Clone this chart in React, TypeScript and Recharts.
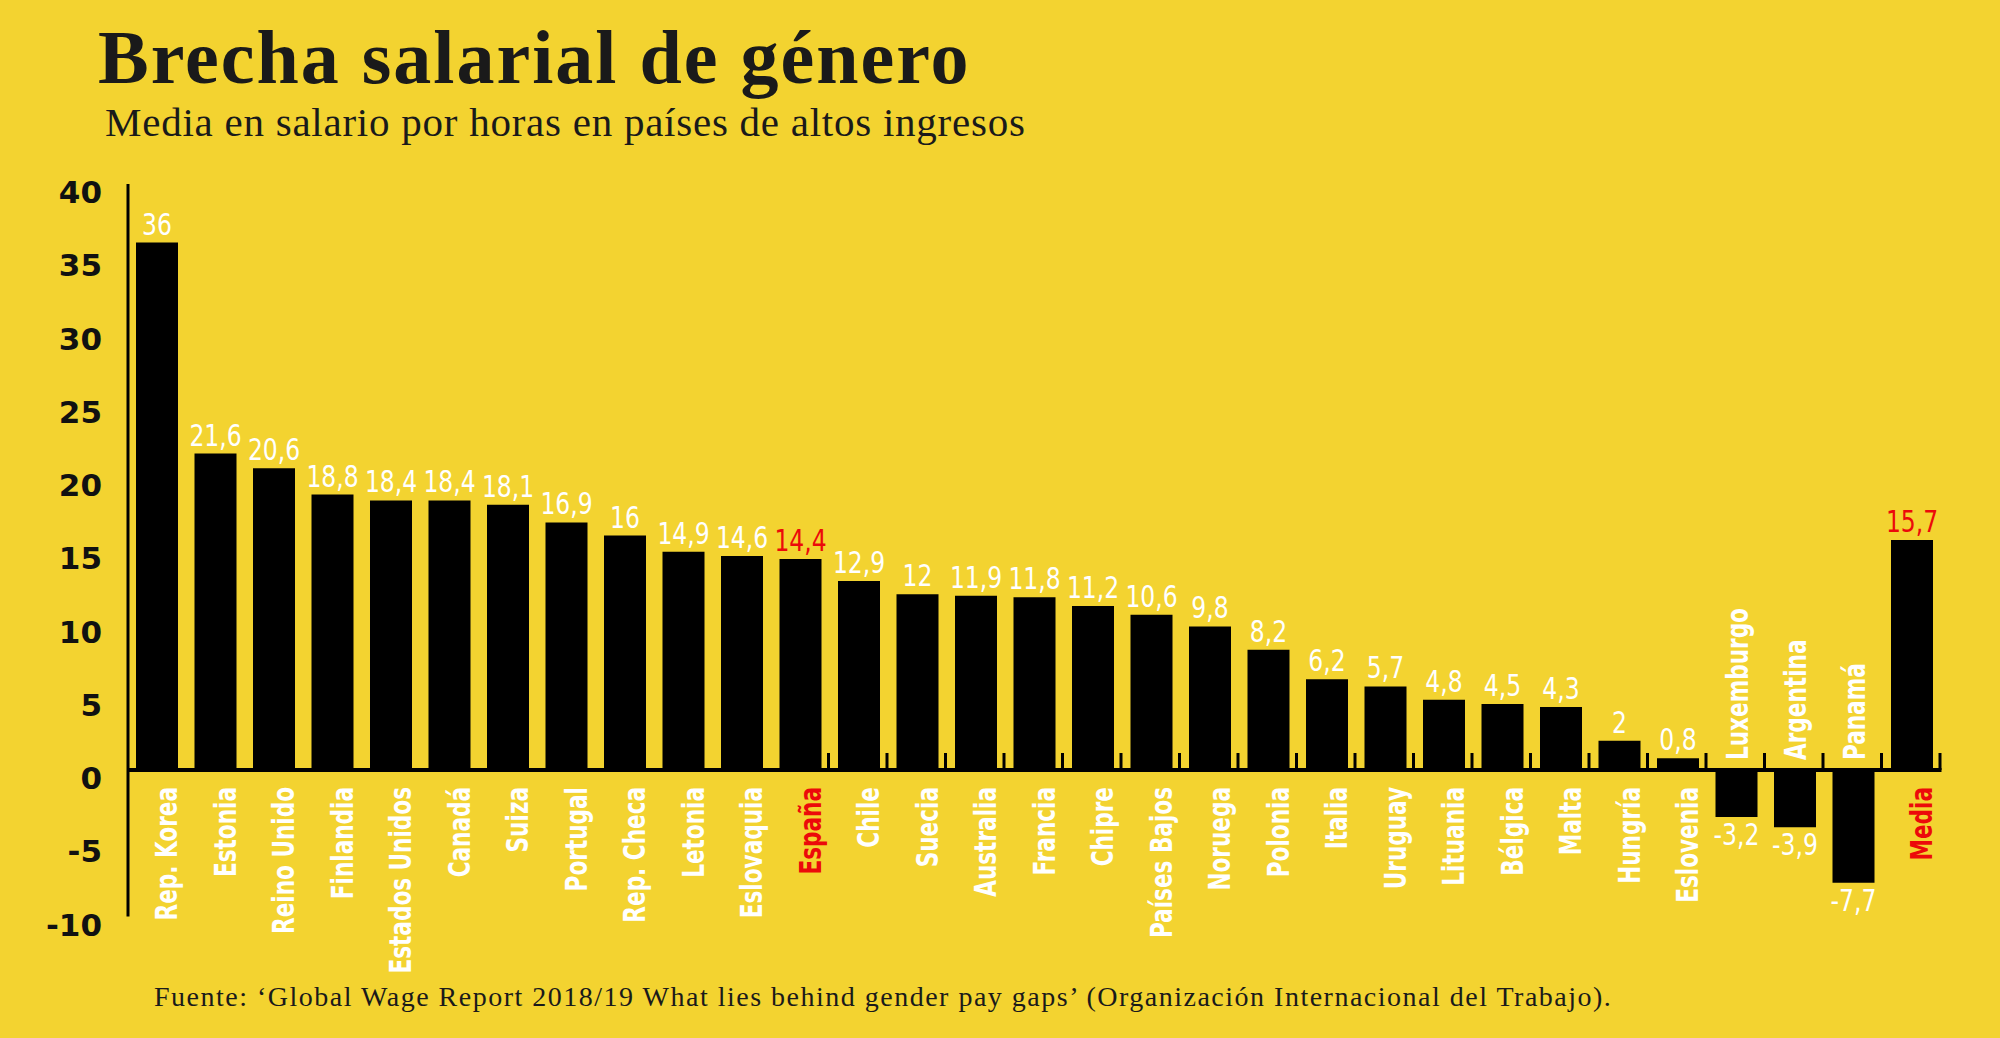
import React from 'react';
import { BarChart, Bar, XAxis, YAxis, ReferenceLine, LabelList, Cell } from 'recharts';

const categories = [
  'Rep. Korea', 'Estonia', 'Reino Unido', 'Finlandia', 'Estados Unidos', 'Canadá', 'Suiza',
  'Portugal', 'Rep. Checa', 'Letonia', 'Eslovaquia', 'España', 'Chile', 'Suecia', 'Australia',
  'Francia', 'Chipre', 'Países Bajos', 'Noruega', 'Polonia', 'Italia', 'Uruguay', 'Lituania',
  'Bélgica', 'Malta', 'Hungría', 'Eslovenia', 'Luxemburgo', 'Argentina', 'Panamá', 'Media',
];

const values = [
  36, 21.6, 20.6, 18.8, 18.4, 18.4, 18.1, 16.9, 16, 14.9, 14.6, 14.4, 12.9, 12, 11.9, 11.8,
  11.2, 10.6, 9.8, 8.2, 6.2, 5.7, 4.8, 4.5, 4.3, 2, 0.8, -3.2, -3.9, -7.7, 15.7,
];

const highlighted = ['España', 'Media'];
const yTicks = [-10, -5, 0, 5, 10, 15, 20, 25, 30, 35, 40];

// small marks on the zero line only appear after España
const firstMark = categories.indexOf('España') + 1;

const data = categories.map((name, i) => ({ name, value: values[i] }));

const BG = '#F3D330';
const RED = '#EC0A0A';
const NARROW = '"Liberation Sans Narrow", "DejaVu Sans Condensed", Roboto, sans-serif';
const SERIF = '"Liberation Serif", "DejaVu Serif", serif';

const fmt = (v: number) => String(v).replace('.', ',');

const YTick = ({ x, y, payload }: any) => (
  <text
    x={x}
    y={y + 19}
    textAnchor="end"
    fontFamily='"DejaVu Sans", sans-serif'
    fontWeight="bold"
    fontSize={31}
    fill="#111"
  >
    {payload.value}
  </text>
);

const ValueLabel = (props: any) => {
  const { x, y, width, height, value, index } = props;
  const top = Math.min(y, y + height);
  const bottom = Math.max(y, y + height);
  const name = categories[index];
  const color = highlighted.includes(name) ? RED : '#fff';
  const neg = value < 0;
  const tx = x + width / 2;
  const ty = neg ? bottom + 28 : top - 8;
  return (
    <text
      transform={`translate(${tx} ${ty}) scale(0.9 1.05)`}
      textAnchor="middle"
      fontFamily={NARROW}
      fontSize={29}
      fill={color}
    >
      {fmt(value)}
    </text>
  );
};

const NameLabel = (props: any) => {
  const { x, y, width, height, value, index } = props;
  const v = values[index];
  const neg = v < 0;
  const zero = neg ? Math.min(y, y + height) : Math.max(y, y + height);
  const cx = x + width / 2;
  const color = highlighted.includes(value) ? RED : '#fff';
  const tx = neg ? cx + 11 : cx + 20;
  const ty = neg ? zero - 10 : zero + 17;
  return (
    <text
      transform={`translate(${tx} ${ty}) rotate(-90) scale(0.8 1)`}
      textAnchor={neg ? 'start' : 'end'}
      fontFamily={NARROW}
      fontWeight="bold"
      fontSize={30}
      fill={color}
    >
      {value}
    </text>
  );
};

const Baseline = (props: any) => {
  const { x1, y1, x2 } = props;
  const step = (x2 - x1) / categories.length;
  const marks = [];
  for (let i = firstMark; i <= categories.length; i++) {
    const mx = x1 + step * i - 1.5;
    marks.push(<line key={i} x1={mx} x2={mx} y1={y1} y2={y1 - 17} stroke="#000" strokeWidth={3} />);
  }
  return (
    <g>
      <line x1={x1} y1={y1} x2={x2} y2={y1} stroke="#000" strokeWidth={4} />
      {marks}
    </g>
  );
};

export default function App() {
  return (
    <div style={{ position: 'absolute', left: 0, top: 0, width: 2000, height: 1038, background: BG, overflow: 'hidden' }}>
      <div
        style={{
          position: 'absolute', left: 98, top: 19, fontFamily: SERIF, fontWeight: 'bold',
          fontSize: 76, lineHeight: 1, letterSpacing: 2, color: '#1a1a1a', whiteSpace: 'nowrap',
        }}
      >
        Brecha salarial de género
      </div>
      <div
        style={{
          position: 'absolute', left: 105, top: 102, fontFamily: SERIF, fontSize: 41,
          lineHeight: 1, letterSpacing: 0.75, color: '#1a1a1a', whiteSpace: 'nowrap',
        }}
      >
        Media en salario por horas en países de altos ingresos
      </div>
      <div style={{ position: 'absolute', left: 0, top: 0 }}>
        <BarChart width={2000} height={1038} data={data} margin={{ top: 184, right: 58.5, bottom: 121.5, left: 8 }}>
          <XAxis dataKey="name" hide />
          <YAxis
            domain={[-10, 40]}
            ticks={yTicks}
            interval={0}
            width={120}
            axisLine={{ stroke: '#000', strokeWidth: 3 }}
            tickLine={false}
            tickSize={0}
            tickMargin={26}
            tick={<YTick />}
          />
          <Bar dataKey="value" barSize={42} fill="#000" isAnimationActive={false}>
            {data.map((d) => (
              <Cell key={d.name} fill="#000" />
            ))}
            <LabelList dataKey="value" content={<ValueLabel />} />
            <LabelList dataKey="name" content={<NameLabel />} />
          </Bar>
          <ReferenceLine y={0} shape={Baseline} />
        </BarChart>
      </div>
      <div
        style={{
          position: 'absolute', left: 154, top: 983, fontFamily: SERIF, fontSize: 28,
          lineHeight: 1, letterSpacing: 1.5, color: '#1a1a1a', whiteSpace: 'nowrap',
        }}
      >
        Fuente: ‘Global Wage Report 2018/19 What lies behind gender pay gaps’ (Organización Internacional del Trabajo).
      </div>
    </div>
  );
}
